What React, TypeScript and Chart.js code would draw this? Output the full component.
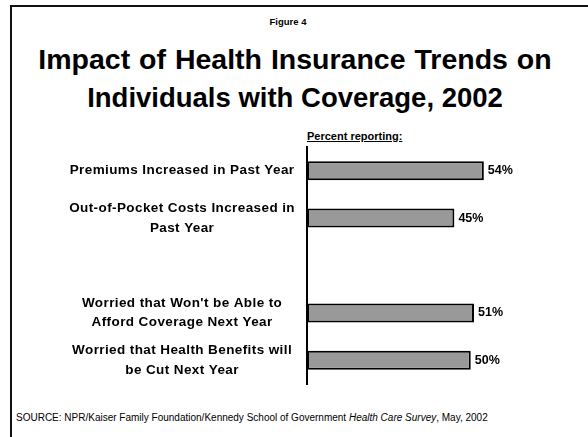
import React, { useEffect, useRef } from "react";
import { Chart, registerables } from "chart.js";

Chart.register(...registerables);

const categories: (string | string[])[] = [
  "Premiums Increased in Past Year",
  ["Out-of-Pocket Costs Increased in", "Past Year"],
  "",
  ["Worried that Won't be Able to", "Afford Coverage Next Year"],
  ["Worried that Health Benefits will", "be Cut Next Year"],
];
const percentReporting: (number | null)[] = [54, 45, null, 51, 50];
const valueLabels: string[] = ["54%", "45%", "", "51%", "50%"];

const FONT = "'Liberation Sans', Arial, Helvetica, sans-serif";

const spacingPlugin = {
  id: "labelSpacing",
  beforeUpdate(chart: any) {
    chart.ctx.letterSpacing = "0.4px";
  },
  beforeDraw(chart: any) {
    chart.ctx.letterSpacing = "0.4px";
  },
};

const valueLabelPlugin = {
  id: "valueLabels",
  afterDatasetsDraw(chart: any) {
    const ctx = chart.ctx;
    const meta = chart.getDatasetMeta(0);
    ctx.save();
    ctx.letterSpacing = "0px";
    ctx.fillStyle = "#000";
    ctx.font = `bold 12.5px ${FONT}`;
    ctx.textAlign = "left";
    ctx.textBaseline = "middle";
    meta.data.forEach((bar: any, i: number) => {
      const v = percentReporting[i];
      if (v === null || v === undefined) return;
      ctx.fillText(valueLabels[i], bar.x + 4, bar.y);
    });
    ctx.restore();
  },
};

export default function App() {
  const canvasRef = useRef<HTMLCanvasElement | null>(null);

  useEffect(() => {
    if (!canvasRef.current) return;
    const chart = new Chart(canvasRef.current, {
      type: "bar",
      data: {
        labels: categories,
        datasets: [
          {
            data: percentReporting,
            backgroundColor: "#999999",
            borderColor: "#000000",
            borderWidth: 2,
            borderSkipped: false,
            categoryPercentage: 1,
            barPercentage: 0.4,
          },
        ],
      },
      options: {
        indexAxis: "y",
        animation: false,
        responsive: false,
        devicePixelRatio: 1,
        layout: { padding: { top: 10, right: 19, bottom: 3, left: 0 } },
        plugins: {
          legend: { display: false },
          tooltip: { enabled: false },
          title: { display: false },
        },
        scales: {
          x: { display: false, min: 0, max: 80 },
          y: {
            grid: { display: false, drawTicks: false },
            border: { display: true, color: "#000", width: 2 },
            ticks: {
              crossAlign: "center",
              padding: 12,
              color: "#000",
              font: { family: FONT, size: 13.5, weight: "bold", lineHeight: 1.45 },
            },
            afterFit: (s: any) => {
              s.width = 307;
              s.paddingTop = 0;
              s.paddingBottom = 0;
            },
          },
        },
      },
      plugins: [spacingPlugin, valueLabelPlugin],
    });
    return () => chart.destroy();
  }, []);

  return (
    <div
      style={{
        position: "fixed",
        left: 0,
        top: 0,
        width: 588,
        height: 437,
        overflow: "hidden",
        background: "#fff",
        fontFamily: FONT,
        color: "#000",
      }}
    >
      <div
        style={{
          position: "absolute",
          left: 10,
          top: 5,
          width: 700,
          height: 600,
          borderLeft: "2px solid #111",
          borderTop: "2px solid #111",
        }}
      />
      <div
        style={{
          position: "absolute",
          left: 188,
          top: 16,
          width: 200,
          textAlign: "center",
          fontSize: 9.5,
          lineHeight: "12px",
          fontWeight: "bold",
        }}
      >
        Figure 4
      </div>
      <div
        style={{
          position: "absolute",
          left: 0,
          top: 40,
          width: 590,
          textAlign: "center",
          fontSize: 28.5,
          lineHeight: "38px",
          fontWeight: "bold",
          whiteSpace: "nowrap",
        }}
      >
        <span style={{ wordSpacing: 1 }}>Impact of Health Insurance Trends on</span>
        <br />
        <span style={{ fontSize: 27.5 }}>Individuals with Coverage, 2002</span>
      </div>
      <div
        style={{
          position: "absolute",
          left: 307,
          top: 130,
          fontSize: 11,
          lineHeight: "13px",
          fontWeight: "bold",
          textDecoration: "underline",
          whiteSpace: "nowrap",
        }}
      >
        Percent reporting:
      </div>
      <canvas
        ref={canvasRef}
        width={588}
        height={250}
        style={{ position: "absolute", left: 0, top: 137, width: 588, height: 250 }}
      />
      <div
        style={{
          position: "absolute",
          left: 16,
          top: 412,
          fontSize: 10,
          lineHeight: "12px",
          whiteSpace: "nowrap",
        }}
      >
        SOURCE: NPR/Kaiser Family Foundation/Kennedy School of Government <i>Health Care Survey</i>, May, 2002
      </div>
    </div>
  );
}
